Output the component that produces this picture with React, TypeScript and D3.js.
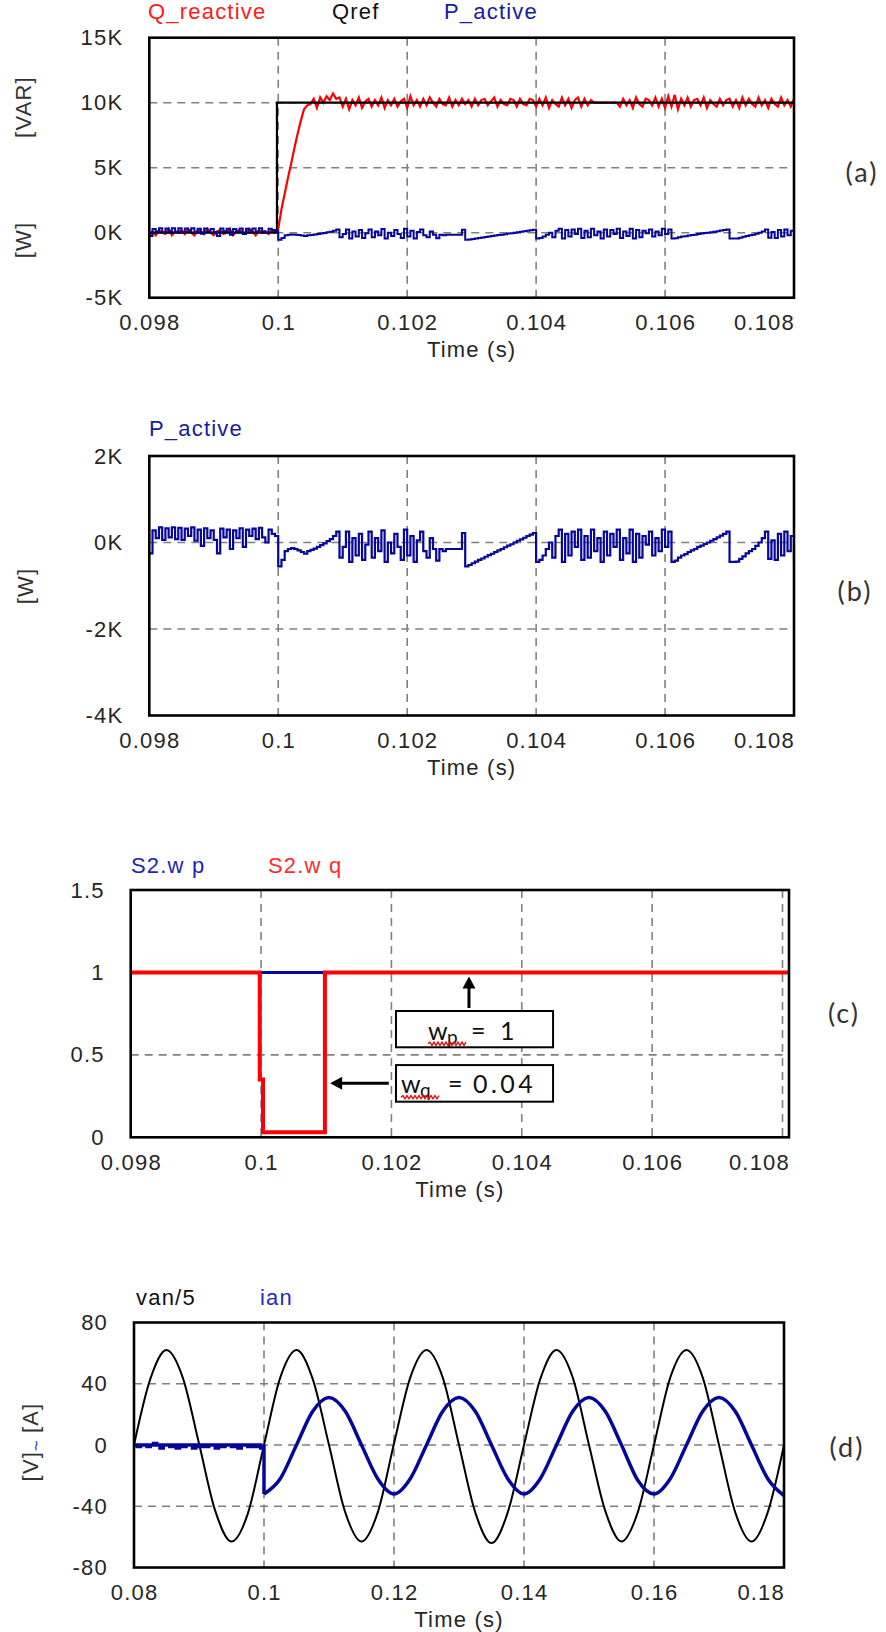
import React from "react";
import * as d3 from "d3";

// ---------------- axis ticks ----------------
const timeTicksABC = [0.098, 0.1, 0.102, 0.104, 0.106, 0.108];
const timeTickLabelsABC = ["0.098", "0.1", "0.102", "0.104", "0.106", "0.108"];
const timeTicksD = [0.08, 0.1, 0.12, 0.14, 0.16, 0.18];
const timeTickLabelsD = ["0.08", "0.1", "0.12", "0.14", "0.16", "0.18"];
const powerTicksA = [-5, 0, 5, 10, 15];
const powerTickLabelsA = ["-5K", "0K", "5K", "10K", "15K"];
const powerTicksB = [-4, -2, 0, 2];
const powerTickLabelsB = ["-4K", "-2K", "0K", "2K"];
const weightTicks = [0, 0.5, 1, 1.5];
const weightTickLabels = ["0", "0.5", "1", "1.5"];
const vaTicks = [-80, -40, 0, 40, 80];
const vaTickLabels = ["-80", "-40", "0", "40", "80"];

// ---------------- sampled signals (panels a, b) ----------------
const SAMPLE_START = 0.098;
const SAMPLE_DT = 0.00005;

// Q_reactive in kVAR, one value every SAMPLE_DT from SAMPLE_START
const qReactiveK = [
  -0.3, 0.1, -0.2, 0.2, 0.0, -0.1, 0.3, -0.2, 0.1, 0.0,
  0.2, -0.1, 0.3, 0.0, -0.2, 0.2, 0.1, -0.1, 0.3, 0.0,
  -0.2, 0.1, 0.2, -0.1, 0.0, 0.3, -0.2, 0.1, 0.2, 0.0,
  -0.1, 0.3, 0.1, -0.2, 0.2, 0.0, 0.1, -0.1, 0.2, 0.0,
  0.3, 1.8, 3.0, 4.2, 5.3, 6.5, 7.6, 8.6, 9.5, 9.8,
  9.9, 10.3, 9.6, 10.4, 10.0, 10.5, 10.2, 10.7, 10.3, 10.4,
  9.7, 10.3, 9.5, 10.2, 9.8, 10.4, 9.6, 10.1, 10.3, 9.7, 10.2, 9.8, 10.4, 9.6, 10.2, 9.8, 10.3, 9.7, 10.1, 10.3,
  9.6, 10.5, 9.8, 10.2, 9.7, 10.3, 9.8, 10.4, 10.0, 9.7, 10.3, 9.9, 9.8, 10.4, 9.7, 10.2, 9.8, 10.3, 9.9, 10.2,
  9.7, 10.3, 9.8, 10.2, 10.3, 9.8, 10.1, 10.4, 9.7, 10.2, 9.9, 9.8, 10.3, 10.2, 9.7, 10.3, 9.9, 9.8, 10.3, 10.2,
  9.7, 10.3, 9.8, 10.4, 9.6, 10.2, 9.9, 9.7, 10.4, 9.8, 10.3, 9.6, 10.2, 10.4, 9.7, 10.3, 9.8, 10.2, 10.0, 10.0,
  10.0, 10.0, 10.0, 10.0, 10.0, 10.0, 9.7, 10.3, 9.8, 10.2, 9.6, 10.4, 9.9, 9.7, 10.3, 10.2, 9.8, 10.4, 9.7, 10.3,
  9.6, 10.5, 9.7, 10.6, 9.5, 10.3, 9.8, 10.4, 9.7, 10.2, 10.3, 9.8, 10.4, 9.6, 10.2, 9.9, 9.7, 10.3, 9.8, 10.2,
  10.3, 9.7, 10.2, 9.6, 10.4, 9.8, 10.3, 9.9, 9.7, 10.4, 9.8, 10.2, 9.6, 10.3, 9.9, 9.7, 10.4, 9.8, 10.2, 9.7,
  10.3, 9.8, 10.2, 9.6, 10.0, 10.3, 9.7, 10.2, 9.8, 10.0, 9.9,
];

// Qref in kVAR
const qRefTime = [0.098, 0.09998, 0.09998, 0.1085];
const qRefK = [0, 0, 10, 10];

// P_active in W, one value every SAMPLE_DT from SAMPLE_START
const pActiveW = [
  -250, 280, 100, 350, 60, 330, 120, 350, 80, 340,
  60, 320, 150, 350, 40, 300, -80, 330, 100, 280,
  60, -250, 320, 120, 300, -150, 280, 100, 330, -100,
  300, 150, 320, 80, 340, 120, 0, 300, 200, 150,
  -550, -400, -200, -150, -130, -150, -180, -220, -260, -200,
  -170, -140, -100, -60, -20, 30, 80, 150, 250, -350,
  -100, 250, -450, 100, -300, 200, -400, -50, 250, -350,
  100, -200, 280, -450, 0, -250, 200, -100, -400, 300,
  -300, 150, -450, 50, 250, -200, -350, 100, -150, -420,
  -150, -200, -150, -150, -150, -150, -150, 220,
  -550, -520, -480, -440, -400, -370, -330, -290, -260, -220,
  -180, -150, -110, -70, -40, 0, 40, 70, 110, 150,
  180, 220,
  -450, -400, -300, -150, 0, -350, 150, 300, -450, 200,
  -300, 250, -100, 300, -400, 150, -350, 300, -200, 100,
  -450, 250, -300, 200, -100, 300, -400, 100, -250, 300,
  -450, 200, -350, 150, -50, 250, -300, 100, -200, 300,
  -100, 250,
  -450, -420, -350, -300, -270, -220, -180, -150, -100, -70,
  -30, 0, 40, 80, 120, 160, 200, 250,
  -450, -450, -440, -380, -320, -250, -200, -150, -80, 0,
  100, 250, -380, 50, -400, 200, -300, 250, -200, 150,
  -420, -100, 200, -400, -350, -420, -380, -400, -420, -410, -420,
];

// ---------------- panel c: weights ----------------
const wpTime = [0.098, 0.1085];
const wpValue = [1, 1];
const wqTime = [0.098, 0.09998, 0.09998, 0.10003, 0.10003, 0.10098, 0.10098, 0.1085];
const wqValue = [1, 1, 0.35, 0.35, 0.03, 0.03, 1, 1];

// ---------------- panel d: voltage / current ----------------
const VAN_START = 0.08;
const VAN_DT = 0.0025;
const van5 = [
  0, 43, 62, 44, 1, -43, -63, -45,
  0, 44, 62, 43, 0, -44, -63, -44,
  1, 44, 62, 44, 0, -44, -64, -44,
  0, 43, 62, 44, 0, -43, -63, -44,
  0, 44, 62, 44, 0, -44, -63, -44,
  0,
];
const IAN_PRE_START = 0.08;
const IAN_PRE_DT = 0.0005;
const ianPre = [
  0, -1, 0, 0, -1, 0, 1, 0, -2, 0,
  0, -1, 0, -2, 0, -1, 0, 0, -2, 0,
  -1, 0, -1, 0, 0, -2, 0, -1, 0, 0,
  -1, 0, -2, 0, 0, -1, 0, -1, 0, -2,
  0,
];
const IAN_START = 0.1;
const IAN_DT = 0.0025;
const ianPost = [
  -32, -22, 0, 22, 31, 22, 0, -22,
  -32, -22, 0, 22, 31, 22, 0, -22,
  -32, -22, 0, 22, 31, 22, 0, -23,
  -32, -22, 0, 22, 31, 22, 0, -22,
  -33,
];

// ---------------- styling ----------------
const FONT = "'Liberation Sans', Arial, sans-serif";
const LABEL_FONT = "Lato, 'Open Sans', sans-serif";
const TICK_COLOR = "#262626";
const GRID_COLOR = "#808080";
const RED = "#ff0000";
const NAVY = "#06069a";
const FS = 22;
const LS = 1.2;

type Box = { left: number; right: number; top: number; bottom: number };
type Pt = [number, number];

const sampled = (t0: number, dt: number, vals: number[], k = 1): Pt[] =>
  vals.map((v, i) => [t0 + i * dt, v * k] as Pt);
const zipPts = (ts: number[], vs: number[]): Pt[] => ts.map((t, i) => [t, vs[i]] as Pt);

function Frame(props: {
  id: string;
  box: Box;
  x: d3.ScaleLinear<number, number>;
  y: d3.ScaleLinear<number, number>;
  xTicks: number[];
  xLabels: string[];
  yTicks: number[];
  yLabels: string[];
  children?: React.ReactNode;
}) {
  const { id, box, x, y, xTicks, xLabels, yTicks, yLabels, children } = props;
  const textStyle = { fontFamily: FONT, fontSize: FS, letterSpacing: LS, fill: TICK_COLOR } as any;
  return (
    <g>
      <defs>
        <clipPath id={id}>
          <rect x={box.left} y={box.top} width={box.right - box.left} height={box.bottom - box.top} />
        </clipPath>
      </defs>
      {xTicks
        .filter((t) => x(t) > box.left + 6 && x(t) < box.right - 6)
        .map((t) => (
          <line key={"gx" + t} x1={x(t)} x2={x(t)} y1={box.top} y2={box.bottom}
            stroke={GRID_COLOR} strokeWidth={1.6} strokeDasharray="8 6" />
        ))}
      {yTicks
        .filter((v) => y(v) > box.top + 6 && y(v) < box.bottom - 6)
        .map((v) => (
          <line key={"gy" + v} x1={box.left} x2={box.right} y1={y(v)} y2={y(v)}
            stroke={GRID_COLOR} strokeWidth={1.6} strokeDasharray="8 6" />
        ))}
      <g clipPath={`url(#${id})`}>{children}</g>
      <rect x={box.left} y={box.top} width={box.right - box.left} height={box.bottom - box.top}
        fill="none" stroke="#000" strokeWidth={2.6} />
      {xTicks.map((t, i) => {
        const last = i === xTicks.length - 1;
        return (
          <text key={"xl" + t} x={last ? box.right + 1 : x(t) + LS / 2} y={box.bottom + 25}
            textAnchor={last ? "end" : "middle"} dominantBaseline="central" style={textStyle}>
            {xLabels[i]}
          </text>
        );
      })}
      {yTicks.map((v, i) => (
        <text key={"yl" + v} x={box.left - 26} y={y(v)} textAnchor="end" dominantBaseline="central" style={textStyle}>
          {yLabels[i]}
        </text>
      ))}
      <text x={(box.left + box.right) / 2} y={box.bottom + 52} textAnchor="middle" dominantBaseline="central" style={textStyle}>
        Time (s)
      </text>
    </g>
  );
}

function wavy(x0: number, x1: number, y: number) {
  let d = `M${x0},${y}`;
  let up = true;
  for (let xx = x0 + 2; xx <= x1; xx += 2) {
    d += ` L${xx},${y + (up ? -1.6 : 1.6)}`;
    up = !up;
  }
  return d;
}

export default function App() {
  const A: Box = { left: 149.3, right: 794, top: 37.7, bottom: 297.7 };
  const B: Box = { left: 149.3, right: 794, top: 456, bottom: 715.5 };
  const C: Box = { left: 130.7, right: 789, top: 890, bottom: 1137.3 };
  const D: Box = { left: 134, right: 784, top: 1322.5, bottom: 1567.5 };

  const xA = d3.scaleLinear().domain([0.098, 0.108]).range([A.left, A.right]);
  const yA = d3.scaleLinear().domain([-5, 15]).range([A.bottom, A.top]);
  const xB = d3.scaleLinear().domain([0.098, 0.108]).range([B.left, B.right]);
  const yB = d3.scaleLinear().domain([-4, 2]).range([B.bottom, B.top]);
  const xC = d3.scaleLinear().domain([0.098, 0.1081]).range([C.left, C.right]);
  const yC = d3.scaleLinear().domain([0, 1.5]).range([C.bottom, C.top]);
  const xD = d3.scaleLinear().domain([0.08, 0.18]).range([D.left, D.right]);
  const yD = d3.scaleLinear().domain([-80, 80]).range([D.bottom, D.top]);

  const lineFor = (x: any, y: any, curve: any) =>
    d3.line<Pt>().x((d) => x(d[0])).y((d) => y(d[1])).curve(curve);

  const qPts = sampled(SAMPLE_START, SAMPLE_DT, qReactiveK);
  const pPts = sampled(SAMPLE_START, SAMPLE_DT, pActiveW, 0.001);
  const qRefPts = zipPts(qRefTime, qRefK);

  const wpPts = zipPts(wpTime, wpValue);
  const wqPts = zipPts(wqTime, wqValue);

  const vanPts = sampled(VAN_START, VAN_DT, van5);
  const ianPostPts = sampled(IAN_START, IAN_DT, ianPost);
  const ianPrePts = [...sampled(IAN_PRE_START, IAN_PRE_DT, ianPre), ianPostPts[0]];

  const legend = { fontFamily: FONT, fontSize: FS, letterSpacing: LS } as any;
  const titleStyle = { fontFamily: FONT, fontSize: FS, letterSpacing: LS, fill: "#333" } as any;
  const panelTag = { fontFamily: LABEL_FONT, fontSize: 27, letterSpacing: 2, fill: "#333" } as any;
  const annFont = { fontFamily: LABEL_FONT, fontSize: 25, fill: "#111" } as any;

  // annotation geometry in data units of panel (c)
  const box1 = { t0: 0.10207, t1: 0.10448, v0: 0.766, v1: 0.546 };
  const box2 = { t0: 0.10207, t1: 0.10448, v0: 0.438, v1: 0.216 };
  const arrowUp = { t: 0.10319, vFrom: 0.766, vTip: 0.975 };
  const arrowLeft = { v: 0.3275, tFrom: 0.10196, tTip: 0.10106 };

  const b1 = { x: xC(box1.t0), y: yC(box1.v0), w: xC(box1.t1) - xC(box1.t0), h: yC(box1.v1) - yC(box1.v0) };
  const b2 = { x: xC(box2.t0), y: yC(box2.v0), w: xC(box2.t1) - xC(box2.t0), h: yC(box2.v1) - yC(box2.v0) };
  const au = { x: xC(arrowUp.t), y0: yC(arrowUp.vFrom), y1: yC(arrowUp.vTip) };
  const al = { y: yC(arrowLeft.v), x0: xC(arrowLeft.tFrom), x1: xC(arrowLeft.tTip) };
  const base1 = b1.y + b1.h - 7.5;
  const base2 = b2.y + b2.h - 8.5;

  return (
    <svg width={886} height={1632} viewBox="0 0 886 1632"
      style={{ position: "absolute", left: 0, top: 0, background: "#fff", display: "block" }}>
      <rect x={0} y={0} width={886} height={1632} fill="#fff" />

      {/* ---------------- panel (a) ---------------- */}
      <text x={148} y={11} dominantBaseline="central" style={{ ...legend, fill: "#ff1a1a" }}>Q_reactive</text>
      <text x={332} y={11} dominantBaseline="central" style={{ ...legend, fill: "#111" }}>Qref</text>
      <text x={444} y={11} dominantBaseline="central" style={{ ...legend, fill: "#1a1aa0" }}>P_active</text>
      <Frame id="clipA" box={A} x={xA} y={yA} xTicks={timeTicksABC} xLabels={timeTickLabelsABC}
        yTicks={powerTicksA} yLabels={powerTickLabelsA}>
        <path d={lineFor(xA, yA, d3.curveLinear)(qPts) || ""} fill="none" stroke={RED} strokeWidth={2.2} />
        <path d={lineFor(xA, yA, d3.curveLinear)(qRefPts) || ""} fill="none" stroke="#000" strokeWidth={2.2} />
        <path d={lineFor(xA, yA, d3.curveStepAfter)(pPts) || ""} fill="none" stroke={NAVY} strokeWidth={2} />
      </Frame>
      <text transform="translate(23,107) rotate(-90)" textAnchor="middle" dominantBaseline="central" style={titleStyle}>[VAR]</text>
      <text transform="translate(23,240) rotate(-90)" textAnchor="middle" dominantBaseline="central" style={titleStyle}>[W]</text>
      <text x={862} y={171} textAnchor="middle" dominantBaseline="central" style={panelTag}>(a)</text>

      {/* ---------------- panel (b) ---------------- */}
      <text x={149} y={428} dominantBaseline="central" style={{ ...legend, fill: "#1a1aa0" }}>P_active</text>
      <Frame id="clipB" box={B} x={xB} y={yB} xTicks={timeTicksABC} xLabels={timeTickLabelsABC}
        yTicks={powerTicksB} yLabels={powerTickLabelsB}>
        <path d={lineFor(xB, yB, d3.curveStepAfter)(pPts) || ""} fill="none" stroke={NAVY} strokeWidth={2.2} />
      </Frame>
      <text transform="translate(25,586) rotate(-90)" textAnchor="middle" dominantBaseline="central" style={titleStyle}>[W]</text>
      <text x={855} y={590} textAnchor="middle" dominantBaseline="central" style={panelTag}>(b)</text>

      {/* ---------------- panel (c) ---------------- */}
      <text x={131} y={865} dominantBaseline="central" style={{ ...legend, fill: "#2323b4" }}>S2.w p</text>
      <text x={268} y={865} dominantBaseline="central" style={{ ...legend, fill: "#ff2a2a" }}>S2.w q</text>
      <Frame id="clipC" box={C} x={xC} y={yC} xTicks={timeTicksABC} xLabels={timeTickLabelsABC}
        yTicks={weightTicks} yLabels={weightTickLabels}>
        <path d={lineFor(xC, yC, d3.curveLinear)(wpPts) || ""} fill="none" stroke={NAVY} strokeWidth={3} />
        <path d={lineFor(xC, yC, d3.curveLinear)(wqPts) || ""} fill="none" stroke={RED} strokeWidth={4} />
      </Frame>
      {/* annotations */}
      <line x1={au.x} x2={au.x} y1={au.y0 - 3} y2={au.y1 + 9} stroke="#000" strokeWidth={3} />
      <path d={`M${au.x},${au.y1} L${au.x - 6.5},${au.y1 + 12} L${au.x + 6.5},${au.y1 + 12} Z`} fill="#000" />
      <rect x={b1.x} y={b1.y} width={b1.w} height={b1.h} fill="#fff" stroke="#000" strokeWidth={2} />
      <text y={base1} style={annFont}>
        <tspan x={b1.x + 32}>w</tspan>
        <tspan x={b1.x + 51} dy={4} fontSize={19}>p</tspan>
        <tspan x={b1.x + 75} dy={-4}>=</tspan>
        <tspan x={b1.x + 104}>1</tspan>
      </text>
      <path d={wavy(b1.x + 32, b1.x + 71, base1 + 4)} fill="none" stroke="#e01010" strokeWidth={1.4} />

      <line x1={al.x0} x2={al.x1 + 9} y1={al.y} y2={al.y} stroke="#000" strokeWidth={3} />
      <path d={`M${al.x1},${al.y} L${al.x1 + 12},${al.y - 6.5} L${al.x1 + 12},${al.y + 6.5} Z`} fill="#000" />
      <rect x={b2.x} y={b2.y} width={b2.w} height={b2.h} fill="#fff" stroke="#000" strokeWidth={2} />
      <text y={base2} style={annFont}>
        <tspan x={b2.x + 5}>w</tspan>
        <tspan x={b2.x + 24} dy={4} fontSize={19}>q</tspan>
        <tspan x={b2.x + 52} dy={-4}>=</tspan>
        <tspan x={b2.x + 77} letterSpacing={3.5}>0.04</tspan>
      </text>
      <path d={wavy(b2.x + 5, b2.x + 44, base2 + 4)} fill="none" stroke="#e01010" strokeWidth={1.4} />
      <text x={844} y={1012} textAnchor="middle" dominantBaseline="central" style={panelTag}>(c)</text>

      {/* ---------------- panel (d) ---------------- */}
      <text x={136} y={1297} dominantBaseline="central" style={{ ...legend, fill: "#111" }}>van/5</text>
      <text x={260} y={1297} dominantBaseline="central" style={{ ...legend, fill: "#2a2ac0" }}>ian</text>
      <Frame id="clipD" box={D} x={xD} y={yD} xTicks={timeTicksD} xLabels={timeTickLabelsD}
        yTicks={vaTicks} yLabels={vaTickLabels}>
        <path d={lineFor(xD, yD, d3.curveMonotoneX)(vanPts) || ""} fill="none" stroke="#000" strokeWidth={2} />
        <path d={lineFor(xD, yD, d3.curveStepAfter)(ianPrePts) || ""} fill="none" stroke={NAVY} strokeWidth={3.5} />
        <path d={lineFor(xD, yD, d3.curveMonotoneX)(ianPostPts) || ""} fill="none" stroke={NAVY} strokeWidth={3.5} />
      </Frame>
      <text transform="translate(30,1442) rotate(-90)" textAnchor="middle" dominantBaseline="central" style={titleStyle}>
        <tspan>[V]</tspan>
        <tspan fill="#1f35ff" fontSize={18} dy={6} letterSpacing={0}>~</tspan>
        <tspan dy={-6}> [A]</tspan>
      </text>
      <text x={847} y={1446} textAnchor="middle" dominantBaseline="central" style={panelTag}>(d)</text>
    </svg>
  );
}
